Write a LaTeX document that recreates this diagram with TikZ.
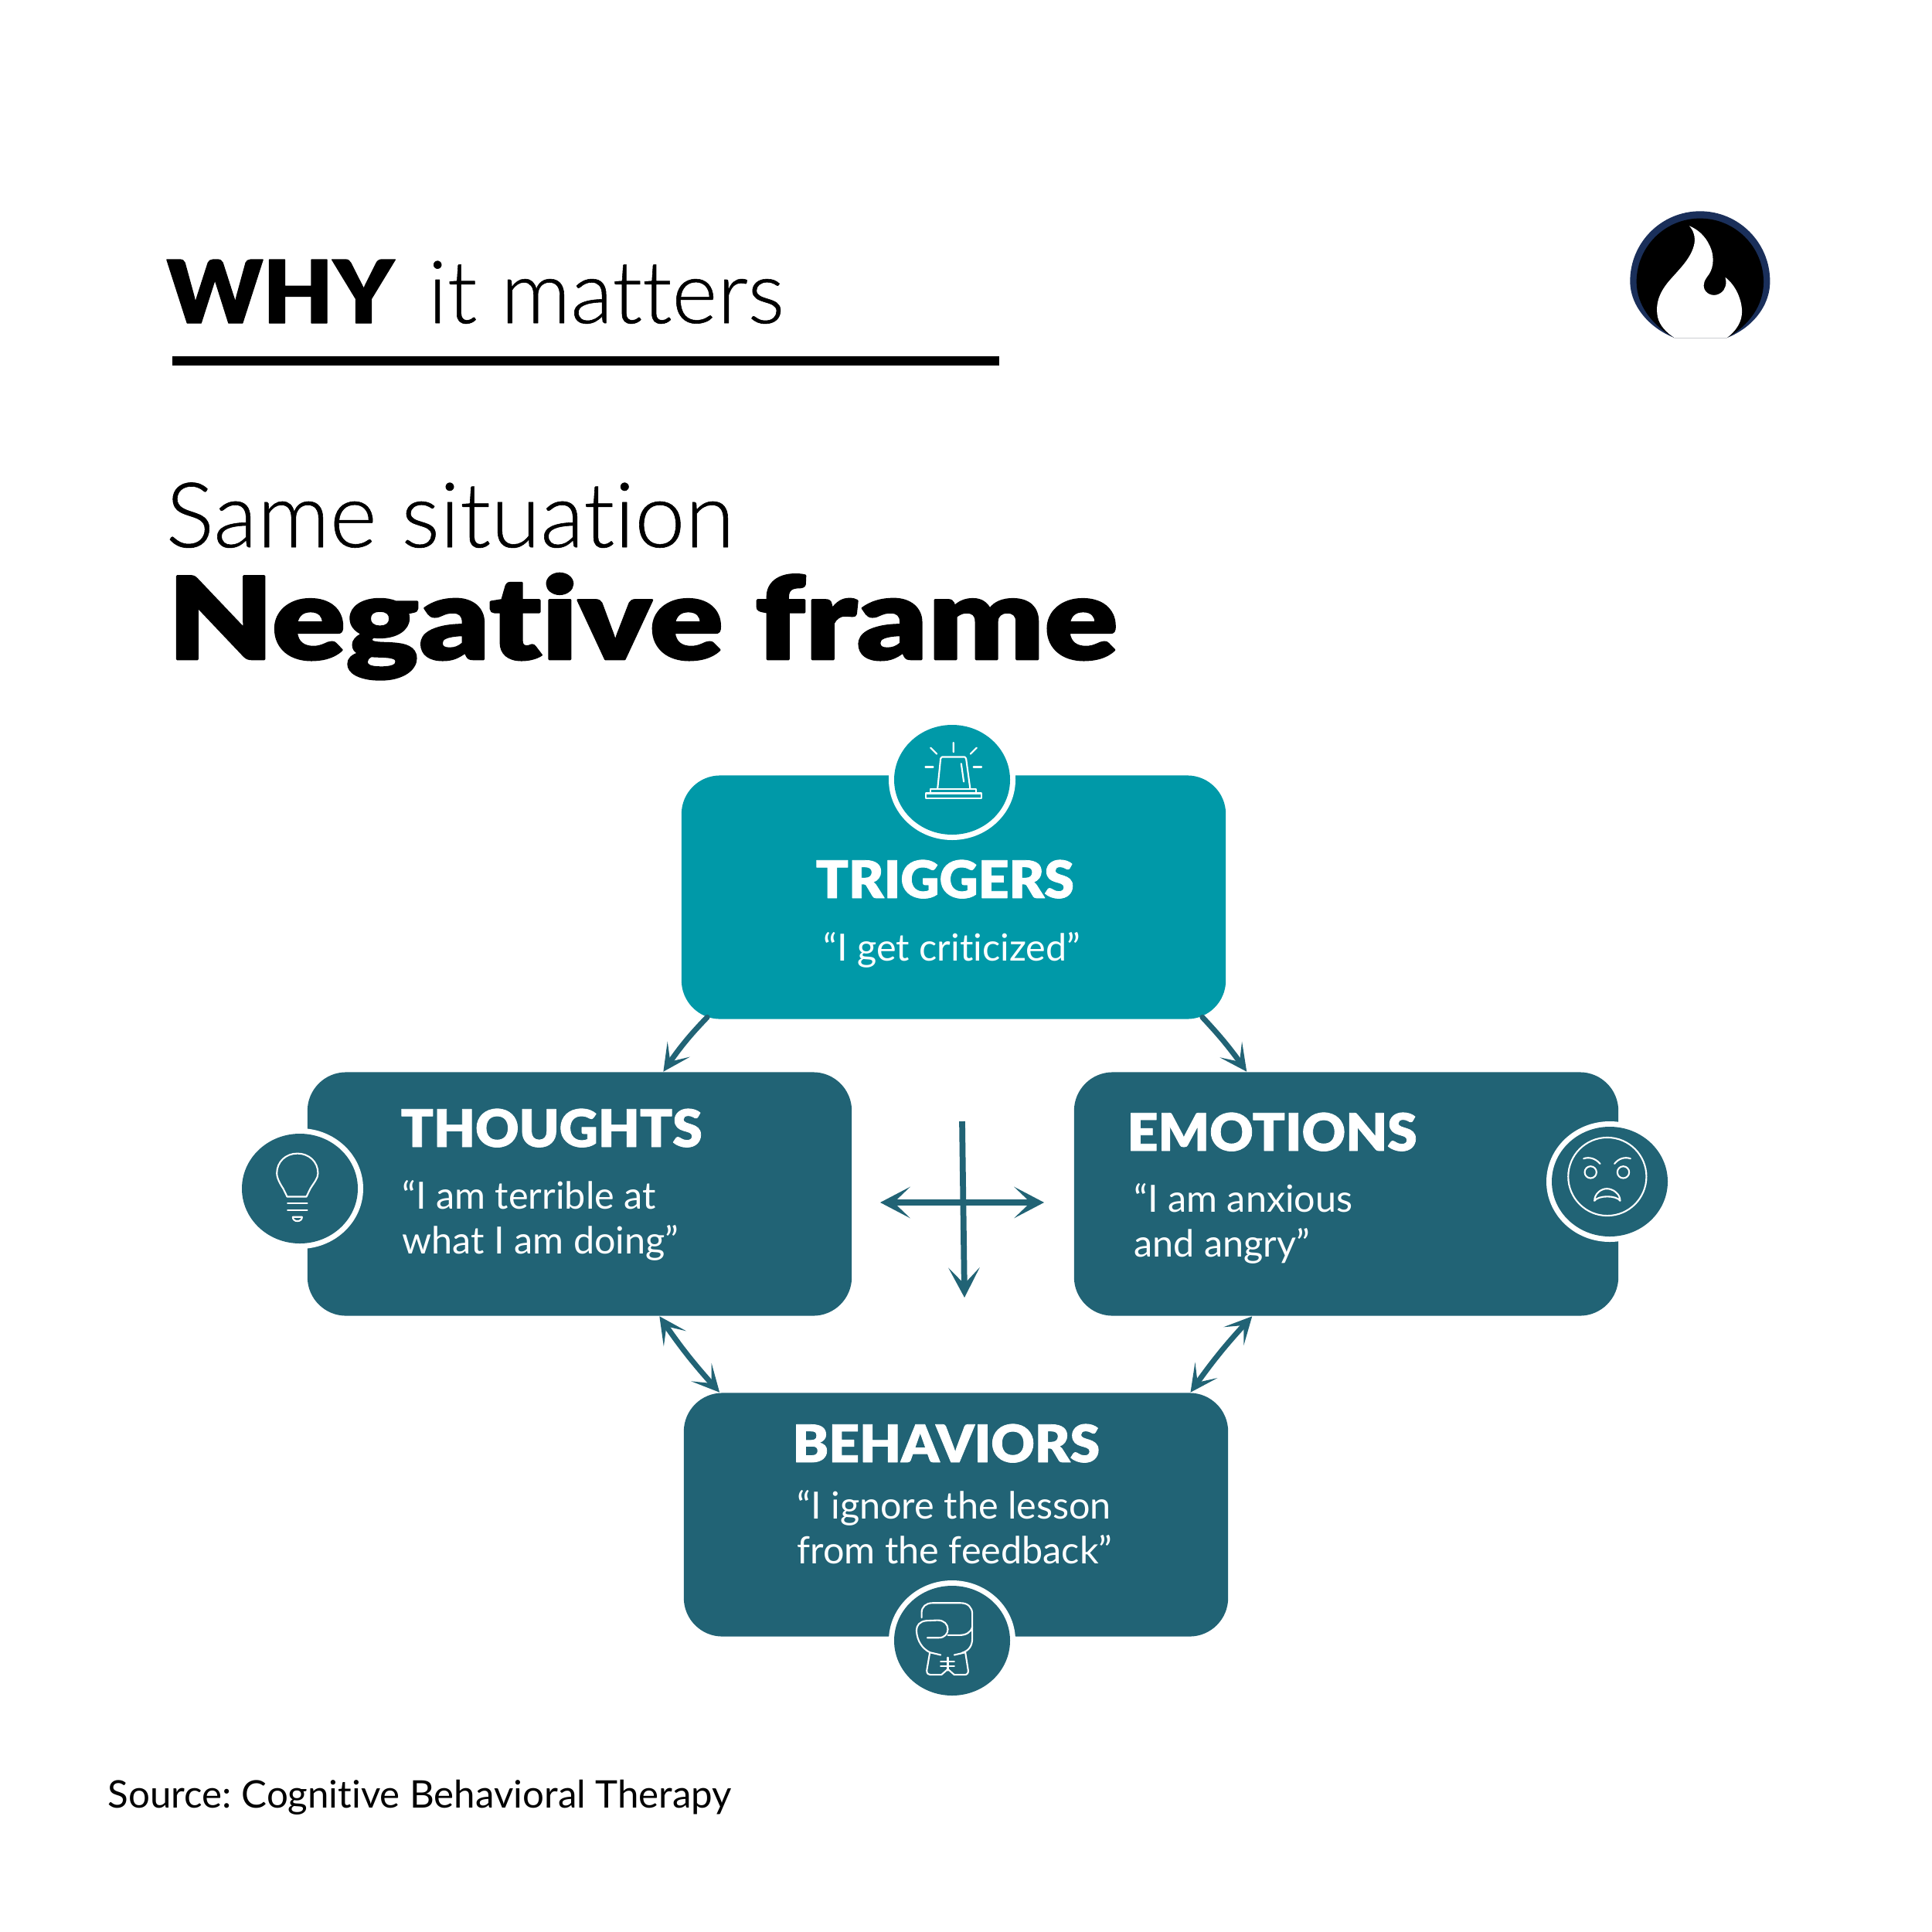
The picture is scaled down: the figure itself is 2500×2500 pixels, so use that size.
\documentclass[tikz,border=0pt]{standalone}
\usepackage{fontspec}
\usepackage{tikz}
\usetikzlibrary{arrows.meta,bending}
\setmainfont{Lato}[Ligatures=NoCommon]
\newfontfamily\lightfont{Lato Light}[FakeBold=0.5,Ligatures=NoCommon]
\newfontfamily\heavyfont{Lato Black}[FakeStretch=1.04,FakeBold=1.2,Ligatures=NoCommon]
\newfontfamily\widefont{Lato Black}[FakeStretch=1.2,FakeBold=1.8,Ligatures=NoCommon]
\definecolor{triggerteal}{HTML}{0099A8}
\definecolor{framedark}{HTML}{216375}
\definecolor{logonavy}{HTML}{1A2F5A}
\frenchspacing
\begin{document}
\begin{tikzpicture}[
	x=0.01cm,
	y=-0.01cm,
	line cap=round,
	line join=round,
	every node/.style={inner sep=0pt, anchor=base west},
	framebox/.style={draw=none, rounded corners=0.5cm, minimum width=7.04cm, minimum height=3.15cm, anchor=center},
	boxtitle/.style={text=white, font=\heavyfont\fontsize{19}{19}\selectfont},
	boxquote/.style={text=white, align=left, font=\fontsize{13.8}{16.3}\selectfont},
	iconline/.style={draw=white, line width=0.6pt},
	link/.style={draw=framedark, line width=2pt, -{Stealth[length=10pt, width=10pt, inset=5.5pt]}},
	twolink/.style={link, {Stealth[length=10pt, width=10pt, inset=5.5pt]}-{Stealth[length=10pt, width=10pt, inset=5.5pt]}},
	crosslink/.style={draw=framedark, line width=2.2pt, line cap=butt}
	]
	\useasboundingbox (0,0) rectangle (2500,2500);
	\fill[white] (0,0) rectangle (2500,2500);

	\node (why) at (215,418) {\heavyfont\fontsize{32}{32}\selectfont WHY};
	\node (matters) at (553,418) {\lightfont\fontsize{32}{32}\selectfont it matters};
	\draw[line width=3.4pt, line cap=butt] (223,467) -- (1293,467);
	\node (same) at (214,708) {\lightfont\fontsize{33.2}{33.2}\selectfont Same situation};
	\node (negative) at (216,853) {\widefont\fontsize{42}{42}\selectfont Negative frame};
	\node (source) at (139,2339) {\fontsize{14}{14}\selectfont Source: Cognitive Behavioral Therapy};

	\node[framebox, fill=triggerteal] (triggers) at (1234,1161) {};
	\node[framebox, fill=framedark] (thoughts) at (750,1545) {};
	\node[framebox, fill=framedark] (emotions) at (1742,1545) {};
	\node[framebox, fill=framedark] (behaviors) at (1237,1960) {};

	\draw[link] ([xshift=0.34cm,yshift=0.03cm]triggers.south west) to[bend right=5] ([xshift=4.61cm]thoughts.north west);
	\draw[link] ([xshift=-0.31cm,yshift=0.03cm]triggers.south east) to[bend left=4] ([xshift=2.24cm]emotions.north west);
	\draw[twolink] ([xshift=4.56cm]thoughts.south west) to[bend right=4] ([xshift=0.47cm]behaviors.north west);
	\draw[twolink] ([xshift=2.31cm]emotions.south west) to[bend right=4] ([xshift=6.56cm]behaviors.north west);

	\coordinate (crosstop) at (1245,1451);
	\coordinate (crossbottom) at (1248,1679);
	\coordinate (crossleft) at (1139,1556);
	\coordinate (crossright) at (1351,1556);
	\draw[crosslink, -{Stealth[length=11pt, width=11.5pt, inset=6pt]}] (crosstop) -- (crossbottom);
	\draw[crosslink, {Stealth[length=11pt, width=11.5pt, inset=6pt]}-{Stealth[length=11pt, width=11.5pt, inset=6pt]}] (crossleft) -- (crossright);

	\node[boxtitle] (triggerstitle) at (1055,1162) {TRIGGERS};
	\node[boxquote] (triggersquote) at (1065,1243) {“I get criticized”};
	\node[boxtitle] (thoughtstitle) at (518,1484) {THOUGHTS};
	\node[boxquote] (thoughtsquote) at (520,1622) {“I am terrible at\\what I am doing”};
	\node[boxtitle] (emotionstitle) at (1458,1489) {EMOTIONS};
	\node[boxquote] (emotionsquote) at (1467,1626) {“I am anxious\\and angry”};
	\node[boxtitle] (behaviorstitle) at (1025,1892) {BEHAVIORS};
	\node[boxquote] (behaviorsquote) at (1031,2023) {“I ignore the lesson\\from the feedback”};

	\fill[white] (1232,1009) ellipse[x radius=82, y radius=78];
	\fill[triggerteal] (1232,1009) ellipse[x radius=75, y radius=71];
	\fill[white] (388,1538) ellipse[x radius=82, y radius=78];
	\fill[framedark] (388,1538) ellipse[x radius=75, y radius=71];
	\fill[white] (2083,1529) ellipse[x radius=82, y radius=78];
	\fill[framedark] (2083,1529) ellipse[x radius=75, y radius=71];
	\fill[white] (1232,2123) ellipse[x radius=82, y radius=78];
	\fill[framedark] (1232,2123) ellipse[x radius=75, y radius=71];

	\begin{scope}[shift={(1100,900)},x=0.00333cm,y=-0.00333cm,iconline]
		\draw (313,203) -- (337,227) (402,183) -- (402,220) (492,203) -- (468,227);
		\draw (293,278) -- (323,278) (480,278) -- (511,278);
		\draw (340,363) -- (352,245) -- (357,239) -- (446,239) -- (451,245) -- (467,363);
		\draw (432,265) -- (442,335);
		\draw (313,380) -- (313,363) -- (490,363) -- (490,380);
		\draw (294,380) rectangle (511,400);
	\end{scope}

	\begin{scope}[shift={(290,1440)},x=0.00333cm,y=-0.00333cm,iconline]
		\draw (245,326) -- (320,326) -- (335,295) .. controls (350,270) and (365,255) .. (365,235) .. controls (365,190) and (330,158) .. (285,158) .. controls (240,158) and (205,190) .. (205,235) .. controls (205,255) and (220,280) .. (230,295) -- cycle;
		\draw (247,352) -- (323,352) (247,378) -- (323,378);
		\draw (267,405) -- (303,405) .. controls (303,415) and (295,421) .. (285,421) .. controls (275,421) and (267,415) .. (267,405) -- cycle;
	\end{scope}

	\begin{scope}[shift={(1980,1430)},x=0.00333cm,y=-0.00333cm,iconline]
		\draw (300,278) circle[radius=152];
		\draw (235,261) circle[radius=23] (362,261) circle[radius=23];
		\draw (208,208) .. controls (230,200) and (255,208) .. (272,228);
		\draw (390,208) .. controls (368,200) and (343,208) .. (328,228);
		\draw (250,372) .. controls (250,345) and (275,325) .. (298,325) .. controls (322,325) and (350,345) .. (350,372) .. controls (335,350) and (265,350) .. (250,372) -- cycle;
	\end{scope}

	\begin{scope}[shift={(1130,2030)},x=0.00333cm,y=-0.00333cm,iconline]
		\draw (188,190) -- (188,170) .. controls (188,148) and (205,133) .. (230,133) -- (340,133) .. controls (368,133) and (385,150) .. (385,175) -- (385,270) .. controls (385,300) and (372,318) .. (345,327);
		\draw (385,225) .. controls (380,248) and (360,258) .. (335,258) -- (290,258);
		\draw (210,268) -- (255,268) .. controls (278,268) and (290,252) .. (290,235) .. controls (290,215) and (275,200) .. (250,200) -- (205,202) .. controls (180,205) and (168,220) .. (168,240) .. controls (170,280) and (190,310) .. (220,325);
		\draw (220,325) -- (208,395) .. controls (208,408) and (214,412) .. (222,412) -- (265,412) -- (290,390) -- (315,412) -- (355,412) .. controls (365,412) and (370,405) .. (369,395) -- (358,325);
		\draw (220,325) -- (262,335) (358,325) -- (315,335);
		\draw (290,345) -- (290,395) (262,360) -- (315,360) (262,378) -- (315,378);
	\end{scope}

	\begin{scope}[shift={(2090,260)},x=0.00333cm,y=-0.00333cm]
		\fill[logonavy] (58,312) arc[start angle=180, end angle=360, radius=272] .. controls (603,410) and (530,495) .. (435,532) -- (230,532) .. controls (135,495) and (58,410) .. (58,312) -- cycle;
		\fill[black] (83,315) arc[start angle=180, end angle=360, radius=247] .. controls (578,405) and (520,485) .. (435,532) -- (230,532) .. controls (145,485) and (83,405) .. (83,315) -- cycle;
		\fill[white] (288,97) .. controls (305,115) and (312,140) .. (308,165) .. controls (298,220) and (250,265) .. (215,305) .. controls (175,350) and (155,395) .. (165,450) .. controls (172,485) and (200,512) .. (230,532) -- (435,532) .. controls (470,505) and (495,470) .. (493,425) .. controls (490,375) and (465,325) .. (428,297) .. controls (435,320) and (430,345) .. (410,358) .. controls (390,372) and (360,368) .. (348,345) .. controls (338,322) and (350,305) .. (365,285) .. controls (385,255) and (385,210) .. (368,175) .. controls (350,135) and (320,110) .. (288,97) -- cycle;
	\end{scope}
\end{tikzpicture}
\end{document}
